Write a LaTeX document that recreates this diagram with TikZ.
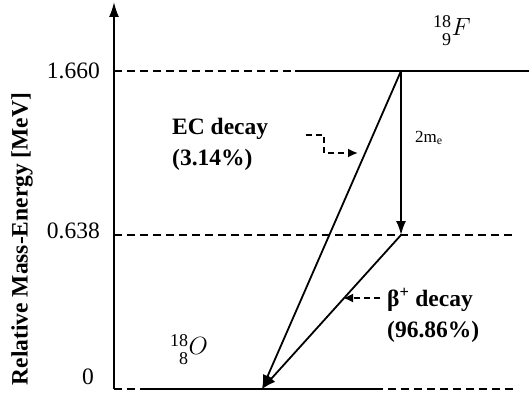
\documentclass[tikz,border=0pt]{standalone}
\usepackage{amsmath}
\usepackage{fontspec}
\setmainfont{Liberation Serif}
\usetikzlibrary{arrows.meta}

\tikzset{
    level/.style={line width=1.8pt},
    leveldash/.style={line width=1.6pt, dash pattern=on 8pt off 5pt},
    decayarrow/.style={line width=1.8pt, -{Latex[length=14pt,width=10pt]}},
    hintarrow/.style={line width=1.8pt, dash pattern=on 6pt off 4pt, -{Latex[length=10pt,width=9pt]}},
    boldlabel/.style={font=\fontsize{23.5}{31}\selectfont\bfseries, align=left, inner sep=0pt},
    ticklabel/.style={font=\fontsize{23.5}{28}\selectfont, inner sep=0pt},
    nuclide/.style={font=\fontsize{27}{30}\selectfont, inner sep=0pt, anchor=base west}
}

% mass number above, charge below, then the symbol
\newcommand{\isotope}[3]{%
  {\fontsize{18}{18}\selectfont\raisebox{8pt}{#1}\llap{\raisebox{-10pt}{#2}}}\kern0.5pt$#3$}

\begin{document}
\begin{tikzpicture}[x=1pt, y=-1pt]
    \useasboundingbox (0,0) rectangle (529,398);

    % Axis
    \coordinate (origin) at (114,389);
    \coordinate (axistop) at (114,2);
    \draw[line width=1.8pt, -{Latex[length=15pt,width=10pt]}] (origin) -- (axistop);
    \node[font=\fontsize{23.5}{28}\selectfont\bfseries, rotate=90] (ylabel) at (22,239) {Relative Mass-Energy [MeV]};

    % Levels
    \coordinate (Ftop) at (401,71);
    \coordinate (Fmid) at (401,235);
    \coordinate (Ognd) at (262,389);

    \draw[leveldash] (114,71) -- (295,71);
    \draw[level] (295,71) -- (529,71);
    \draw[leveldash] (114,235) -- (515,235);
    \draw[leveldash] (114,389) -- (140,389);
    \draw[level] (140,389) -- (375,389);
    \draw[leveldash] (375,389) -- (515,389);

    \node[ticklabel, anchor=east] (e1) at (100,71) {1.660};
    \node[ticklabel, anchor=east] (e2) at (100,231) {0.638};
    \node[ticklabel] (e0) at (88,377) {0};

    % Nuclides
    \node[nuclide] (fluorine) at (433,36) {\isotope{18}{9}{F}};
    \node[nuclide] (oxygen) at (170,354) {\isotope{18}{8}{O}};

    % Decays
    \draw[decayarrow] (Ftop) -- (Ognd);
    \draw[decayarrow] (Ftop) -- (Fmid);
    \draw[decayarrow] (Fmid) -- (Ognd);
    \node[font=\fontsize{17}{20}\selectfont, anchor=west, inner sep=0pt] (twome) at (415,138) {2m\textsubscript{e}};

    % Labels
    \node[boldlabel, anchor=west] (ec) at (172,144) {EC decay\\(3.14\%)};
    \node[boldlabel, anchor=west] (beta) at (387,315) {β\textsuperscript{+} decay\\(96.86\%)};

    \coordinate (ecstart) at (306,135);
    \coordinate (ectip) at (358,153);
    \draw[hintarrow] (ecstart) -- (324,135) -- (324,153) -- (ectip);
    \coordinate (betastart) at (380,298);
    \coordinate (betatip) at (343,298);
    \draw[hintarrow] (betastart) -- (betatip);
\end{tikzpicture}
\end{document}
